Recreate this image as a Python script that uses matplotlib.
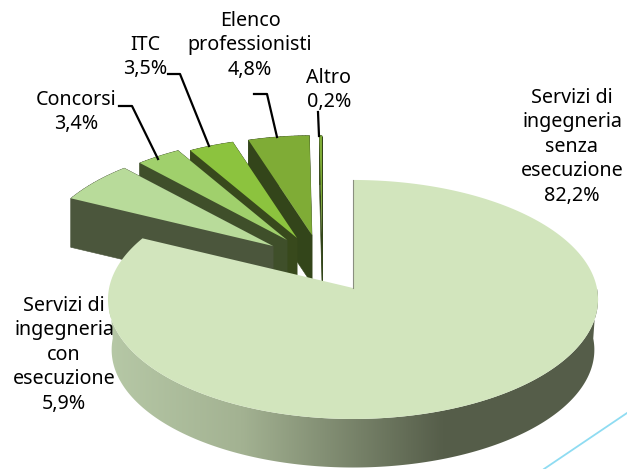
#!/usr/bin/env python3
import numpy as np
import matplotlib
matplotlib.use('Agg')
import matplotlib.pyplot as plt
from matplotlib.colors import LinearSegmentedColormap
from matplotlib.patches import Polygon

# dati
categories = ['Servizi di\ningegneria\nsenza\nesecuzione', 'Servizi di\ningegneria\ncon\nesecuzione',
              'Concorsi', 'ITC', 'Elenco\nprofessionisti', 'Altro']
values = [82.2, 5.9, 3.4, 3.5, 4.8, 0.2]

# stile
top_colors = ['#d2e5bd', '#b8db9a', '#a0d06c', '#8cc33e', '#7fac36', '#7fac36']
side_colors = ['#555d49', '#4b563c', '#3f4f2a', '#38491c', '#33451a', '#33451a']
apex = [(353, 288), (273, 246), (287, 240), (297, 238), (312, 235), (322, 235)]
radius_scale = [1, 0.96, 0.95, 0.93, 0.92, 0.92]
label_pos = [(572, 147), (64, 355), (76, 112), (145, 57), (250, 45), (329, 90)]
leaders = [[(119, 106), (132, 106), (158, 159)],
           [(168, 74), (180, 74), (209, 146)],
           [(254, 94), (267, 94), (277, 137)],
           [(318, 112), (319, 136)]]
R = 243.9
S = 118.4
K = 0.096
DEPTH = 49

plt.rcParams['font.family'] = ['Noto Sans', 'DejaVu Sans']
fig = plt.figure(figsize=(6.27, 4.69), dpi=100)
ax = fig.add_axes([0, 0, 1, 1])


def project(t, center, scale=1.0):
    # cerchio in prospettiva, t in gradi in senso orario dall'alto
    t = np.radians(t)
    w = 1 + K * np.cos(t)
    return center[0] + scale * R * np.sin(t) / w, center[1] - scale * S * np.cos(t) / w


def draw_wedge(t0, t1, center, scale, top, side, z):
    ts = np.linspace(t0, t1, max(int(abs(t1 - t0)), 2) + 1)
    xs, ys = project(ts, center, scale)
    xs = np.r_[center[0], xs, center[0]]
    ys = np.r_[center[1], ys, center[1]]
    # faccia laterale, segmento per segmento
    for i in range(len(xs) - 1):
        ax.fill([xs[i], xs[i + 1], xs[i + 1], xs[i]],
                [ys[i], ys[i + 1], ys[i + 1] + DEPTH, ys[i] + DEPTH],
                color=side, lw=0.4, zorder=z)
    ax.fill(xs, ys, color=top, lw=0, zorder=z + 0.1)


# fette staccate, da dietro verso davanti
edges = 360 * np.cumsum([0] + values) / sum(values)
for i in range(len(values) - 1, 0, -1):
    draw_wedge(edges[i], edges[i + 1], apex[i], radius_scale[i], top_colors[i], side_colors[i], 2 + (6 - i))

# fetta principale: lato con sfumatura (base un po' piu stretta)
ts = np.linspace(90, 270, 181)
xs, ys = project(ts, apex[0])
xb, yb = project(ts, (apex[0][0], apex[0][1] + DEPTH), 0.985)
yb = yb + 1.5
side_poly = np.r_[np.c_[xs, ys], np.c_[xb[::-1], yb[::-1]]]
cmap = LinearSegmentedColormap.from_list('lato', [(0, '#b6c8a6'), (0.27, '#a3b292'), (0.68, '#565e4a'), (1, '#555d49')])
grad = ax.imshow(np.linspace(0, 1, 256)[None, :], extent=(109, 599, 480, 290), cmap=cmap, aspect='auto', zorder=10)
clip = Polygon(side_poly, transform=ax.transData, fc='none', ec='none')
ax.add_patch(clip)
grad.set_clip_path(clip)

ts = np.linspace(edges[0], edges[1], 300)
xs, ys = project(ts, apex[0])
ax.fill(np.r_[apex[0][0], xs], np.r_[apex[0][1], ys], color=top_colors[0], lw=0, zorder=11)
x0, y0 = project(edges[0], apex[0])
ax.plot([x0, apex[0][0]], [y0, apex[0][1]], color='#8a8f80', lw=0.8, zorder=11)

# linea azzurra in basso a destra
ax.plot([627, 544], [413, 469], color='#8fdcf2', lw=1.3, zorder=1)

# linee guida ed etichette
for line in leaders:
    ax.plot([p[0] for p in line], [p[1] for p in line], color='black', lw=1.6, zorder=12)

for name, v, pos in zip(categories, values, label_pos):
    txt = name + '\n' + f'{v:.1f}'.replace('.', ',') + '%'
    ax.text(pos[0], pos[1], txt, ha='center', va='center', fontsize=14.2, linespacing=1.3,
            color='black', zorder=13)

ax.set_xlim(0, 627)
ax.set_ylim(469, 0)
ax.axis('off')
fig.savefig('out.png', dpi=100)
